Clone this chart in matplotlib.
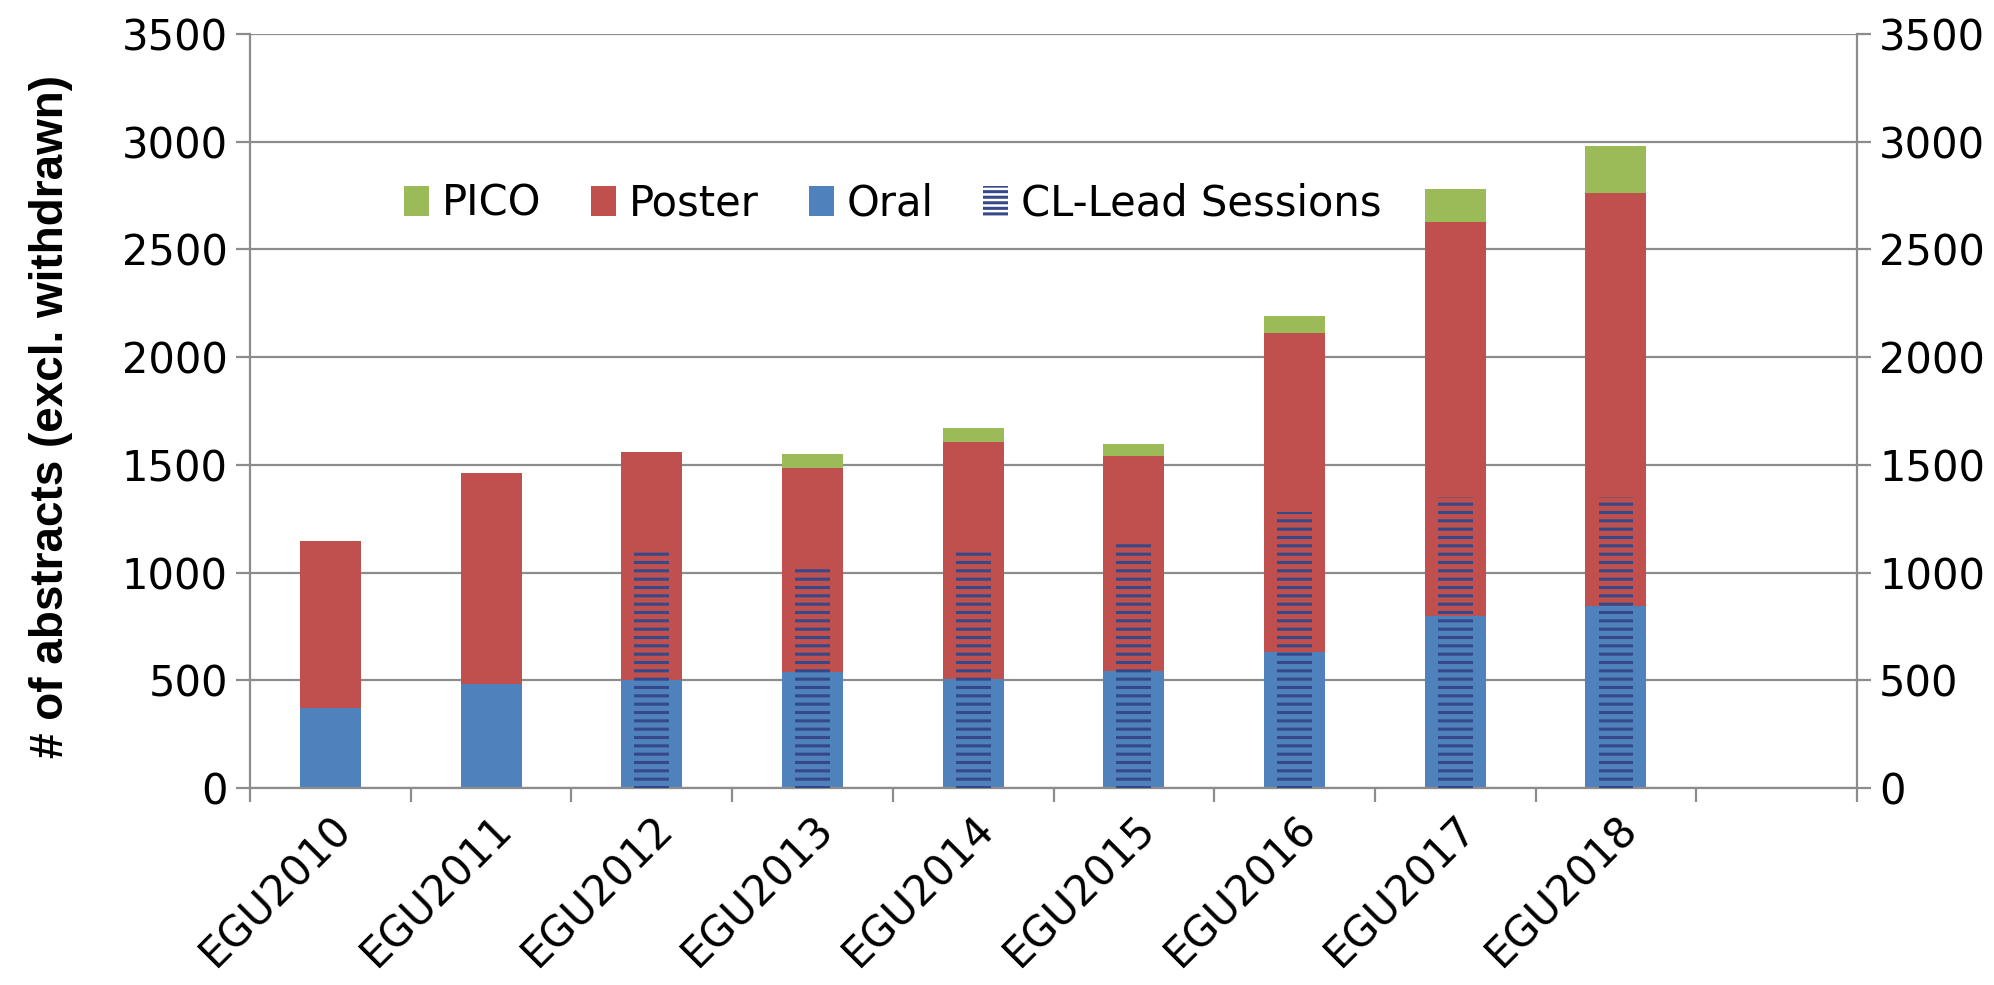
import numpy as np
import matplotlib
matplotlib.use('Agg')
import matplotlib.pyplot as plt
from matplotlib.patches import Patch

# data
years = ['EGU2010', 'EGU2011', 'EGU2012', 'EGU2013', 'EGU2014',
         'EGU2015', 'EGU2016', 'EGU2017', 'EGU2018']
oral = [370, 485, 500, 540, 505, 545, 630, 800, 845]
poster_top = [1145, 1460, 1560, 1485, 1605, 1540, 2110, 2625, 2760]
pico_top = [1145, 1460, 1560, 1550, 1670, 1595, 2190, 2780, 2980]
cl_lead = [0, 0, 1100, 1030, 1100, 1145, 1280, 1350, 1350]

oral = np.array(oral)
poster = np.array(poster_top) - oral
pico = np.array(pico_top) - np.array(poster_top)

c_pico = '#9bbb59'
c_poster = '#c0504d'
c_oral = '#4f81bd'
c_hatch = '#34488a'
grid_c = '#8c8c8c'
fs = 30

plt.rcParams['hatch.linewidth'] = 2.2
plt.rcParams['hatch.color'] = c_hatch

fig = plt.figure(figsize=(19.94, 9.85), dpi=100)
ax = fig.add_axes([0.1254, 0.2, 0.8059, 0.7655])

x = np.arange(len(years))
w = 0.38
ax.bar(x, oral, w, color=c_oral, zorder=2)
ax.bar(x, poster, w, bottom=oral, color=c_poster, zorder=2)
ax.bar(x, pico, w, bottom=oral + poster, color=c_pico, zorder=2)
# CL-lead sessions overlay (narrower, hatched)
ax.bar(x, cl_lead, w * 0.57, facecolor='none', edgecolor=c_hatch,
       hatch='--', linewidth=0, zorder=3)

ax.set_xlim(-0.5, 9.5)
ax.set_ylim(0, 3500)
ax.set_yticks(np.arange(0, 3501, 500))
ax.yaxis.grid(True, color=grid_c, linewidth=1.6, zorder=0)
ax.set_axisbelow(True)

# ticks at category boundaries, labels at centres
ax.set_xticks(np.arange(-0.5, 10, 1))
ax.set_xticklabels([])
ax.set_xticks(x, minor=True)
ax.set_xticklabels(years, minor=True, rotation=45, ha='right',
                   rotation_mode='anchor', fontsize=fs)
ax.tick_params(axis='x', which='major', length=10, color=grid_c, width=1.6,
               direction='out')
ax.tick_params(axis='x', which='minor', length=0, pad=14)
ax.tick_params(axis='y', length=10, color=grid_c, width=1.6, labelsize=fs,
               pad=6)

for s in ['left', 'right', 'bottom']:
    ax.spines[s].set_color(grid_c)
    ax.spines[s].set_linewidth(1.6)
ax.spines['top'].set_visible(False)

ax2 = ax.twinx()
ax2.set_ylim(0, 3500)
ax2.set_yticks(np.arange(0, 3501, 500))
ax2.tick_params(axis='y', length=10, color=grid_c, width=1.6, labelsize=fs,
                pad=6)
for s in ['left', 'right', 'bottom', 'top']:
    ax2.spines[s].set_visible(False)

fig.text(0.0255, 0.577, '# of abstracts (excl. withdrawn)', fontsize=33,
         fontweight='bold', rotation=90, ha='center', va='center',
         family=['DejaVu Sans Condensed', 'Liberation Sans Narrow', 'Liberation Sans'])

handles = [Patch(facecolor=c_pico, edgecolor='none'),
           Patch(facecolor=c_poster, edgecolor='none'),
           Patch(facecolor=c_oral, edgecolor='none'),
           Patch(facecolor='white', edgecolor=c_hatch, hatch='---', linewidth=0)]
labels = ['PICO', 'Poster', 'Oral', 'CL-Lead Sessions']
ax.legend(handles, labels, loc='center', bbox_to_anchor=(0.4, 0.775),
          ncol=4, frameon=False, fontsize=fs, handlelength=0.6,
          handleheight=0.7, handletextpad=0.3, columnspacing=1.2)

plt.savefig('out.png', dpi=100)
plt.close()
